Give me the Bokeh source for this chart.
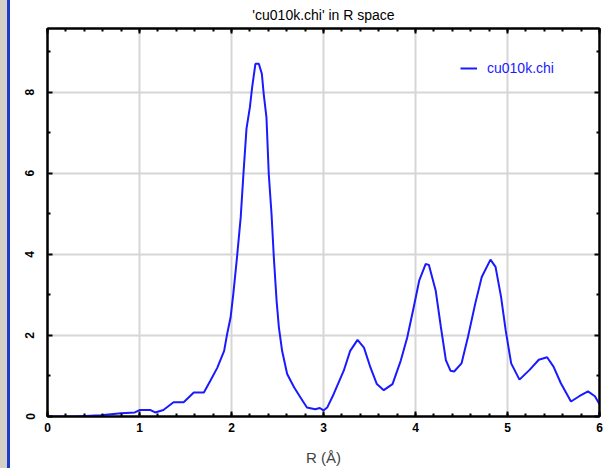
from bokeh.plotting import figure
from bokeh.models import (Legend, LegendItem, LinearAxis, FixedTicker, Range1d, Div,
                          CustomLabelingPolicy)
from bokeh.layouts import row
from bokeh.embed import file_html
from bokeh.resources import INLINE

# Data (R in Angstrom, |chi(R)|)
r_values = [0, 0.3, 0.58, 0.8, 0.95, 1.0, 1.12, 1.17, 1.26, 1.37, 1.48, 1.59, 1.70, 1.77, 1.845,
            1.92, 1.953, 1.99, 2.02, 2.06, 2.10, 2.13, 2.163, 2.2, 2.225, 2.26, 2.297, 2.33, 2.35, 2.38,
            2.405, 2.435, 2.46, 2.49, 2.515, 2.55, 2.605, 2.68, 2.75, 2.82, 2.91, 2.96, 3.0, 3.04, 3.11,
            3.22, 3.29, 3.37, 3.44, 3.51, 3.58, 3.655, 3.75, 3.84, 3.91, 3.98, 4.04, 4.11, 4.145, 4.22,
            4.275, 4.33, 4.38, 4.42, 4.50, 4.57, 4.65, 4.72, 4.815, 4.87, 4.93, 4.98, 5.04, 5.13, 5.24,
            5.34, 5.43, 5.50, 5.58, 5.69, 5.78, 5.875, 5.95, 6.0]
chi_values = [0, 0, 0.03, 0.08, 0.1, 0.16, 0.16, 0.1, 0.16, 0.35, 0.35, 0.59, 0.59, 0.88, 1.2,
              1.62, 2.04, 2.44, 3.03, 3.93, 4.91, 5.99, 7.10, 7.63, 8.13, 8.70, 8.70, 8.45, 7.96, 7.38,
              5.98, 5.00, 3.93, 2.86, 2.20, 1.62, 1.05, 0.72, 0.47, 0.22, 0.18, 0.21, 0.15, 0.22, 0.55,
              1.13, 1.62, 1.89, 1.70, 1.21, 0.80, 0.65, 0.80, 1.38, 1.95, 2.69, 3.35, 3.76, 3.74, 3.10,
              2.22, 1.39, 1.13, 1.11, 1.31, 1.96, 2.79, 3.44, 3.87, 3.69, 2.95, 2.13, 1.31, 0.91, 1.15,
              1.40, 1.46, 1.23, 0.82, 0.37, 0.50, 0.62, 0.50, 0.30]
x_ticks = [0, 1, 2, 3, 4, 5, 6]
y_ticks = [0, 2, 4, 6, 8]
x_minor = [i / 5 for i in range(31)]
y_minor = [1, 3, 5, 7, 9]
title_text = "'cu010k.chi' in R space"
x_label = "R (Å)"
series_name = "cu010k.chi"

y_max = max(chi_values) * 1.1
font = "Liberation Sans"

p = figure(width=595, height=468, x_range=Range1d(0, 6), y_range=Range1d(0, y_max),
           output_backend="svg", toolbar_location=None,
           min_border_left=37, min_border_right=6, min_border_top=28, min_border_bottom=52)
p.background_fill_color = "white"
p.border_fill_color = "white"
p.outline_line_color = "black"
p.outline_line_width = 2

p.title.text = title_text
p.title.align = "center"
p.title.text_font = font
p.title.text_font_size = "14px"
p.title.text_font_style = "normal"
p.title.text_color = "black"
p.title.standoff = 3

blue = "#1a1aff"
line = p.line(r_values, chi_values, line_color=blue, line_width=2)

for ax in (p.xaxis[0], p.yaxis[0]):
    ax.major_tick_in = 5
    ax.major_tick_out = 0
    ax.minor_tick_in = 3
    ax.minor_tick_out = 0
    ax.major_tick_line_width = 2
    ax.minor_tick_line_width = 2
    ax.axis_line_width = 2
    ax.major_label_text_font = font
    ax.major_label_text_font_style = "bold"
    ax.major_label_text_font_size = "12px"
    ax.major_label_text_color = "black"

p.xaxis[0].ticker = FixedTicker(ticks=x_ticks, minor_ticks=x_minor)
p.yaxis[0].ticker = FixedTicker(ticks=y_ticks, minor_ticks=y_minor)
p.xaxis[0].major_label_standoff = 6
p.yaxis[0].major_label_standoff = 13
p.yaxis[0].major_label_orientation = "vertical"
p.xaxis[0].axis_label = x_label
p.xaxis[0].axis_label_text_font = font
p.xaxis[0].axis_label_text_font_style = "normal"
p.xaxis[0].axis_label_text_font_size = "15px"
p.xaxis[0].axis_label_standoff = 14

# mirrored tick marks on top and right, without labels
hide_all = CustomLabelingPolicy(code="for (const i of indices) { indices.unset(i) } return indices")
top = LinearAxis(ticker=FixedTicker(ticks=x_ticks, minor_ticks=x_minor), major_label_policy=hide_all)
right = LinearAxis(ticker=FixedTicker(ticks=y_ticks, minor_ticks=y_minor),
                   major_label_policy=CustomLabelingPolicy(code="for (const i of indices) { indices.unset(i) } return indices"))
for ax in (top, right):
    ax.major_tick_in = 5
    ax.major_tick_out = 0
    ax.minor_tick_in = 3
    ax.minor_tick_out = 0
    ax.major_tick_line_width = 2
    ax.minor_tick_line_width = 2
    ax.axis_line_width = 2
    ax.major_label_text_font_size = "1px"
    ax.major_label_standoff = 0
p.add_layout(top, "above")
p.add_layout(right, "right")

p.grid.grid_line_color = "#d6d6d6"
p.grid.grid_line_width = 2
p.xgrid.ticker = FixedTicker(ticks=x_ticks)
p.ygrid.ticker = FixedTicker(ticks=y_ticks)

legend = Legend(items=[LegendItem(label=series_name, renderers=[line])], location=(413, 340),
                border_line_color=None, background_fill_alpha=0, padding=0, margin=0,
                glyph_width=17, glyph_height=14, label_standoff=10,
                label_text_color=blue, label_text_font=font, label_text_font_size="14px")
p.add_layout(legend)

strip = Div(width=10, height=468, margin=0,
            styles={"background": "linear-gradient(to right, #d4d0c8 0px, #d4d0c8 7px, #1a3cc8 7px, #1a3cc8 10px)"})

layout = row(strip, p, spacing=0)
open("out.html", "w").write(file_html(layout, INLINE))
